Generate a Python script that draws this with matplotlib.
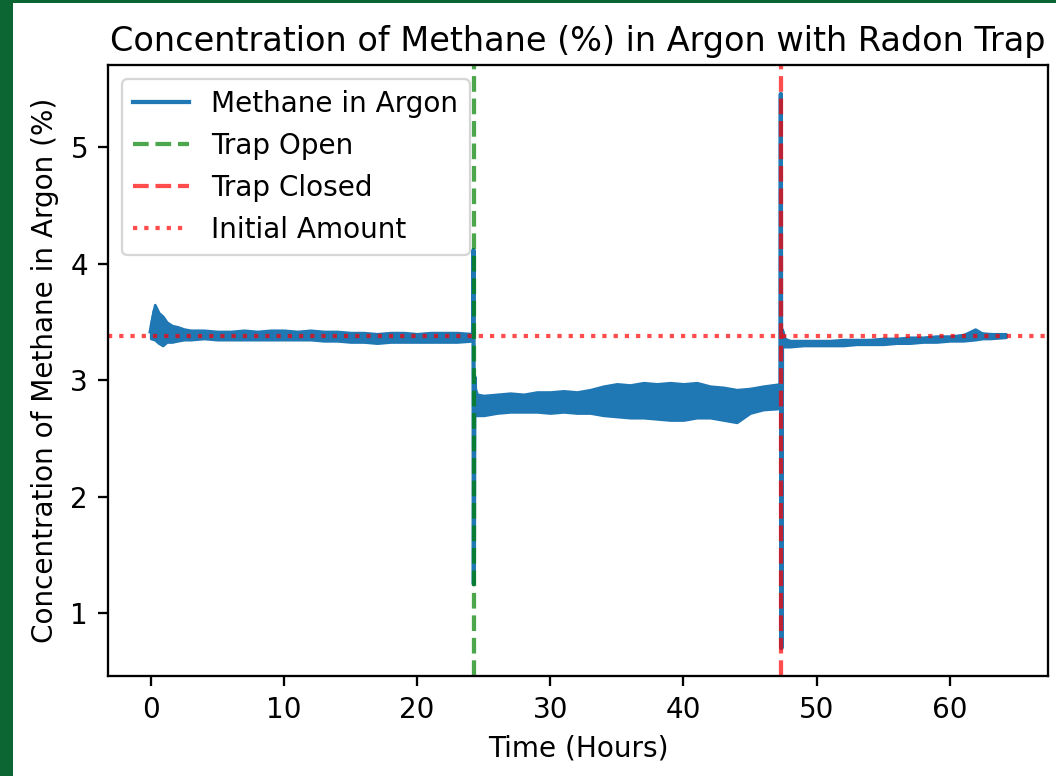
import matplotlib
matplotlib.use('Agg')
import matplotlib.pyplot as plt
from matplotlib.patches import Rectangle
import numpy as np

# ---------------------------------------------------------------------------
# Data (time in hours, methane in %)
# ---------------------------------------------------------------------------
initial_amount = 3.38
trap_open_time = 24.25
trap_closed_time = 47.33

# main trace (centre of the noisy band, plus the switching spikes)
methane_time = [0.0, 0.3, 0.6, 0.9, 1.2, 2.0, 3.0, 6.0, 10.0, 14.0, 18.0, 22.0, 24.2,
                24.23, 24.26, 24.3, 24.4, 25.0, 30.0, 35.0, 40.0, 44.0, 45.0, 47.28,
                47.31, 47.35, 47.4, 47.6, 52.0, 56.0, 60.0, 61.9, 64.2]
methane_value = [3.42, 3.60, 3.50, 3.34, 3.44, 3.39, 3.39, 3.39, 3.39, 3.38, 3.37, 3.37, 3.37,
                 4.12, 1.25, 3.03, 2.80, 2.78, 2.81, 2.83, 2.82, 2.80, 2.84, 2.86,
                 5.46, 0.70, 3.42, 3.33, 3.33, 3.34, 3.36, 3.40, 3.38]

# noise envelope, before the trap is opened
band1_time = [0, 0.3, 0.6, 0.9, 1.2, 1.6, 2.0, 2.5, 3, 4, 5, 6, 7, 8, 9, 10, 11, 12,
              13, 14, 15, 16, 17, 18, 19, 20, 21, 22, 23, 24.2]
band1_upper = [3.48, 3.65, 3.58, 3.55, 3.50, 3.47, 3.46, 3.44, 3.43, 3.43, 3.42, 3.42,
               3.43, 3.42, 3.43, 3.43, 3.42, 3.43, 3.42, 3.42, 3.41, 3.41, 3.40, 3.41,
               3.41, 3.40, 3.41, 3.41, 3.41, 3.40]
band1_lower = [3.36, 3.35, 3.32, 3.30, 3.33, 3.33, 3.34, 3.35, 3.35, 3.36, 3.35, 3.35,
               3.35, 3.35, 3.35, 3.35, 3.35, 3.35, 3.34, 3.34, 3.33, 3.33, 3.32, 3.33,
               3.33, 3.33, 3.33, 3.33, 3.33, 3.34]

# noise envelope, trap open
band2_time = [24.3, 24.5, 25, 26, 27, 28, 29, 30, 31, 32, 33, 34, 35, 36, 37, 38, 39,
              40, 41, 42, 43, 44, 45, 46, 47.3]
band2_upper = [2.95, 2.88, 2.87, 2.88, 2.89, 2.88, 2.90, 2.90, 2.91, 2.90, 2.92, 2.95,
               2.97, 2.96, 2.98, 2.97, 2.98, 2.97, 2.98, 2.95, 2.94, 2.92, 2.93, 2.95, 2.97]
band2_lower = [2.70, 2.70, 2.70, 2.72, 2.73, 2.73, 2.73, 2.72, 2.73, 2.72, 2.72, 2.70,
               2.69, 2.68, 2.68, 2.67, 2.66, 2.66, 2.68, 2.68, 2.66, 2.64, 2.72, 2.75, 2.76]

# noise envelope, trap closed again
band3_time = [47.4, 47.6, 48, 49, 50, 51, 52, 53, 54, 55, 56, 57, 58, 59, 60, 61,
              61.9, 62.5, 63, 64.2]
band3_upper = [3.44, 3.36, 3.34, 3.34, 3.34, 3.34, 3.35, 3.35, 3.35, 3.36, 3.36, 3.37,
               3.37, 3.38, 3.38, 3.39, 3.44, 3.40, 3.40, 3.40]
band3_lower = [3.29, 3.29, 3.29, 3.30, 3.30, 3.30, 3.30, 3.31, 3.31, 3.31, 3.32, 3.32,
               3.33, 3.33, 3.34, 3.34, 3.35, 3.36, 3.36, 3.37]

# ---------------------------------------------------------------------------
# Figure
# ---------------------------------------------------------------------------
plt.rcParams['font.size'] = 12.2
plt.rcParams['lines.linewidth'] = 1.85
plt.rcParams['axes.linewidth'] = 1.0
plt.rcParams['xtick.major.width'] = 1.0
plt.rcParams['ytick.major.width'] = 1.0
plt.rcParams['xtick.major.size'] = 4.2
plt.rcParams['ytick.major.size'] = 4.2
plt.rcParams['xtick.major.pad'] = 4.5
plt.rcParams['ytick.major.pad'] = 4.5

fig = plt.figure(figsize=(6.4, 776 / 165), dpi=165, facecolor='white')
# green frame on the left and top edges
frame = '#0b6633'
fig.patches.append(Rectangle((0, 0), 13 / 1056, 1, transform=fig.transFigure,
                             facecolor=frame, edgecolor='none'))
fig.patches.append(Rectangle((0, 1 - 3 / 776), 1, 3 / 776, transform=fig.transFigure,
                             facecolor=frame, edgecolor='none'))

ax = fig.add_axes([108 / 1056, 100 / 776, 940 / 1056, 611 / 776])

for t, lo, hi in [(band1_time, band1_lower, band1_upper),
                  (band2_time, band2_lower, band2_upper),
                  (band3_time, band3_lower, band3_upper)]:
    ax.fill_between(t, lo, hi, color='C0', lw=1.2)

ax.plot(methane_time, methane_value, color='C0', label='Methane in Argon')
ax.axvline(trap_open_time, color='g', ls='--', alpha=0.7, label='Trap Open')
ax.axvline(trap_closed_time, color='r', ls='--', alpha=0.7, label='Trap Closed')
ax.axhline(initial_amount, color='r', ls=':', alpha=0.7, label='Initial Amount')

ax.set_xlim(-3.21, 67.37)
ax.set_ylim(0.462, 5.708)
ax.set_xlabel('Time (Hours)', labelpad=4.5)
ax.set_ylabel('Concentration of Methane in Argon (%)', labelpad=5)
ax.set_title('Concentration of Methane (%) in Argon with Radon Trap')
ax.legend(loc='upper left')

fig.savefig('out.png', dpi=165)
